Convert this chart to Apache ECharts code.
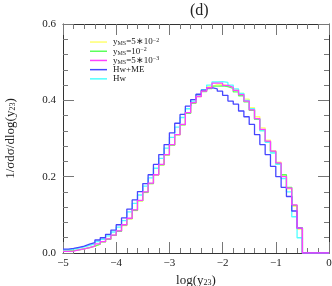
<!DOCTYPE html>
<html><head><meta charset="utf-8">
<script src="https://cdn.jsdelivr.net/npm/echarts/dist/echarts.min.js"></script>
<style>html,body{margin:0;padding:0;background:#fff}#c{width:332px;height:286px}</style>
</head><body><div id="c"></div>
<script>
// histogram bins: 50 bins of width 0.1 in log(y23), from -5 to 0
const binEdges = Array.from({length: 51}, (_, i) => +(-5 + 0.1 * i).toFixed(1));
const xTicks = [-5, -4, -3, -2, -1, 0];
const yTicks = [0.0, 0.2, 0.4, 0.6];

const seriesNames = ['yMS=5*10^-2', 'yMS=10^-2', 'yMS=5*10^-3', 'Hw+ME', 'Hw'];

const yMS5e2 = [0.005,0.006,0.008,0.011,0.014,0.018,0.023,0.029,0.036,0.046,
  0.057,0.072,0.089,0.111,0.136,0.158,0.182,0.204,0.230,0.256,
  0.282,0.309,0.336,0.367,0.392,0.410,0.425,0.436,0.441,0.442,
  0.438,0.433,0.427,0.418,0.403,0.381,0.357,0.328,0.296,0.268,
  0.238,0.202,0.168,0.122,0.062,0,0,0,0,0];
const yMS1e2 = [0.005,0.006,0.008,0.011,0.014,0.018,0.023,0.029,0.036,0.046,
  0.057,0.073,0.090,0.112,0.137,0.159,0.182,0.205,0.231,0.257,
  0.283,0.310,0.336,0.366,0.393,0.411,0.423,0.431,0.437,0.438,
  0.436,0.431,0.422,0.412,0.396,0.374,0.350,0.322,0.292,0.265,
  0.234,0.205,0.172,0.125,0.066,0,0,0,0,0];
const yMS5e3 = [0.004,0.005,0.008,0.011,0.014,0.018,0.024,0.030,0.037,0.047,
  0.058,0.074,0.091,0.113,0.138,0.160,0.183,0.205,0.232,0.258,
  0.284,0.310,0.337,0.368,0.394,0.410,0.424,0.433,0.445,0.445,
  0.439,0.434,0.426,0.415,0.398,0.375,0.352,0.324,0.293,0.267,
  0.236,0.200,0.170,0.126,0.065,0,0,0,0,0];
const hwME = [0.010,0.012,0.015,0.018,0.023,0.027,0.034,0.040,0.049,0.060,
  0.074,0.092,0.115,0.139,0.161,0.182,0.205,0.232,0.258,0.284,
  0.315,0.340,0.363,0.385,0.402,0.416,0.427,0.433,0.430,0.424,
  0.413,0.398,0.390,0.372,0.357,0.337,0.310,0.284,0.258,0.227,
  0.200,0.172,0.148,0.110,0.065,0,0,0,0,0];
const hw = [0.008,0.010,0.013,0.016,0.020,0.024,0.030,0.036,0.045,0.055,
  0.068,0.085,0.108,0.130,0.152,0.175,0.197,0.222,0.248,0.275,
  0.303,0.330,0.355,0.378,0.398,0.415,0.428,0.440,0.448,0.449,
  0.447,0.440,0.430,0.418,0.400,0.378,0.352,0.320,0.290,0.262,
  0.232,0.195,0.160,0.095,0.040,0,0,0,0,0];

const colors = {
  'yMS=5*10^-2': '#ffff70',
  'yMS=10^-2': '#5cff5c',
  'yMS=5*10^-3': '#ff40ff',
  'Hw+ME': '#4646ff',
  'Hw': '#50ffff'
};
const values = {
  'yMS=5*10^-2': yMS5e2,
  'yMS=10^-2': yMS1e2,
  'yMS=5*10^-3': yMS5e3,
  'Hw+ME': hwME,
  'Hw': hw
};
const legendRich = {
  'yMS=5*10^-2': '{n|y}{sub|MS}{n|=5∗10}{sup|−2}',
  'yMS=10^-2': '{n|y}{sub|MS}{n|=10}{sup|−2}',
  'yMS=5*10^-3': '{n|y}{sub|MS}{n|=5∗10}{sup|−3}',
  'Hw+ME': '{n|Hw+ME}',
  'Hw': '{n|Hw}'
};

function steps(vals) {
  const pts = vals.map((v, i) => [binEdges[i], v]);
  pts.push([binEdges[vals.length], vals[vals.length - 1]]);
  return pts;
}

const serif = 'Liberation Serif';
const drawOrder = ['yMS=5*10^-2', 'yMS=10^-2', 'Hw', 'Hw+ME', 'yMS=5*10^-3'];

function ticks() {
  return {
    axisLine: {show: true, onZero: false, lineStyle: {color: '#333', width: 1}},
    axisTick: {show: true, inside: true, length: 11, lineStyle: {color: '#777', width: 1}},
    minorTick: {show: true, splitNumber: 5, length: 5, lineStyle: {color: '#777', width: 1}},
    splitLine: {show: false}
  };
}

const legendRows = seriesNames.map((n, i) => ({
  orient: 'vertical', left: 85, top: 32.3 + i * 9.2, padding: 5,
  icon: 'rect', itemWidth: 17, itemHeight: 1.5,
  data: [n],
  formatter: nm => legendRich[nm],
  textStyle: {
    fontFamily: serif, color: '#222', padding: [0, 0, 0, 1], lineHeight: 9.5,
    rich: {
      n: {fontFamily: serif, fontSize: 9, color: '#222', lineHeight: 9.5},
      sub: {fontFamily: serif, fontSize: 6, color: '#222', verticalAlign: 'bottom', lineHeight: 9.5},
      sup: {fontFamily: serif, fontSize: 6, color: '#222', verticalAlign: 'top', lineHeight: 9.5}
    }
  }
}));

const chart = echarts.init(document.getElementById('c'), null, {renderer: 'canvas'});
chart.setOption({
  animation: false,
  backgroundColor: '#fff',
  title: {
    text: '(d)', left: 185, top: -2,
    textStyle: {fontFamily: serif, fontSize: 16, fontWeight: 'normal', color: '#222'}
  },
  grid: {left: 63, right: 3, top: 24, bottom: 33, containLabel: false, outerBoundsMode: 'none'},
  legend: legendRows,
  xAxis: [
    Object.assign({
      type: 'value', min: xTicks[0], max: xTicks[xTicks.length - 1], interval: 1, position: 'bottom',
      axisLabel: {fontFamily: serif, fontSize: 11, color: '#222', margin: 5,
        formatter: v => String(v).replace('-', '−')},
      name: 'log(y{s|23})', nameLocation: 'middle', nameGap: 13,
      nameTextStyle: {fontFamily: serif, fontSize: 13, color: '#222',
        rich: {s: {fontFamily: serif, fontSize: 8, verticalAlign: 'bottom', color: '#222'}}}
    }, ticks()),
    Object.assign({
      type: 'value', min: xTicks[0], max: xTicks[xTicks.length - 1], interval: 1, position: 'top',
      axisLabel: {show: false}
    }, ticks())
  ],
  yAxis: [
    Object.assign({
      type: 'value', min: yTicks[0], max: yTicks[yTicks.length - 1], interval: 0.2, position: 'left',
      axisLabel: {fontFamily: serif, fontSize: 11, color: '#222', margin: 7,
        formatter: v => v.toFixed(1)},
      name: '1/σdσ/dlog(y{s|23})', nameLocation: 'middle', nameGap: 46, nameRotate: 90,
      nameTextStyle: {fontFamily: serif, fontSize: 13, color: '#222',
        rich: {s: {fontFamily: serif, fontSize: 8, verticalAlign: 'bottom', color: '#222'}}}
    }, ticks()),
    Object.assign({
      type: 'value', min: yTicks[0], max: yTicks[yTicks.length - 1], interval: 0.2, position: 'right',
      axisLabel: {show: false}
    }, ticks())
  ],
  series: drawOrder.map(name => ({
    name: name, type: 'line', step: 'end', showSymbol: false, symbol: 'none',
    xAxisIndex: 0, yAxisIndex: 0,
    data: steps(values[name]),
    lineStyle: {color: colors[name], width: 1.3},
    itemStyle: {color: colors[name]}
  }))
});
</script>
</body></html>
